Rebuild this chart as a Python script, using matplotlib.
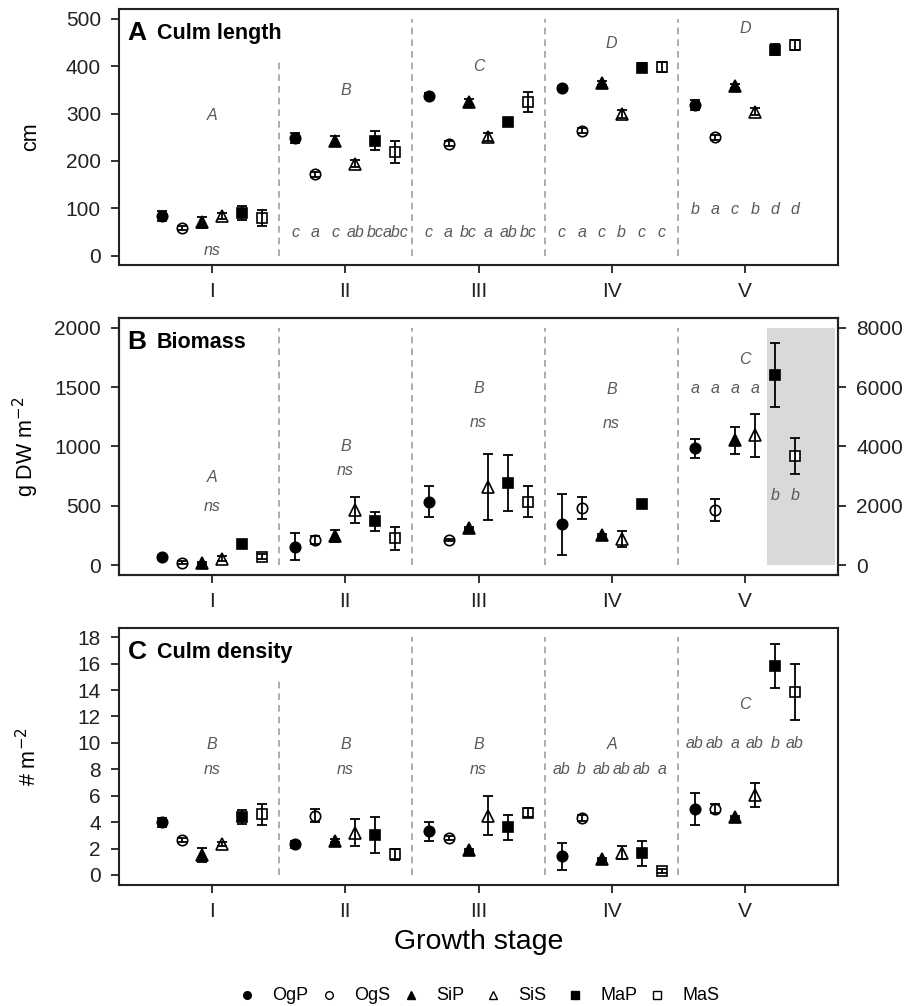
import matplotlib
matplotlib.use("Agg")
import matplotlib.pyplot as plt
from matplotlib.patches import Rectangle
import numpy as np

plt.rcParams['font.family'] = ['Liberation Sans', 'DejaVu Sans']

stages = ["I", "II", "III", "IV", "V"]
series = ["OgP", "OgS", "SiP", "SiS", "MaP", "MaS"]
markers = ["o", "o", "^", "^", "s", "s"]
filled = [True, False, True, False, True, False]

# Panel A: culm length (cm); rows = series, cols = stages
length_mean = [
    [84, 248, 338, 354, 318],
    [58, 172, 236, 264, 250],
    [70, 242, 324, 364, 359],
    [84, 194, 250, 299, 304],
    [90, 243, 283, 397, 435],
    [80, 219, 324, 398, 445],
]
length_err = [
    [10, 11, 5, 4, 10],
    [5, 5, 5, 5, 5],
    [11, 11, 6, 4, 4],
    [6, 7, 9, 9, 8],
    [15, 20, 4, 10, 11],
    [17, 24, 21, 10, 10],
]
length_stage_letters = ["A", "B", "C", "D", "D"]
length_stage_letter_y = [296, 349, 400, 449, 479]
length_group_letters = [
    ["", "", "", "", "", ""],
    ["c", "a", "c", "ab", "bc", "abc"],
    ["c", "a", "bc", "a", "ab", "bc"],
    ["c", "a", "c", "b", "c", "c"],
    ["b", "a", "c", "b", "d", "d"],
]
length_group_y = [None, 49, 49, 49, 98]
length_ns_y = [10, None, None, None, None]

# Panel B: biomass (g DW m-2); stage V MaP/MaS are on the right axis scale
biomass_mean = [
    [67, 155, 533, 343, 983],
    [20, 211, 211, 478, 466],
    [15, 247, 310, 255, 1050],
    [55, 463, 657, 219, 1094],
    [180, 368, 693, 514, 6412],
    [70, 225, 533, 0, 3684],
]
biomass_err = [
    [15, 115, 132, 257, 77],
    [12, 30, 12, 93, 91],
    [8, 52, 10, 10, 110],
    [25, 112, 278, 70, 181],
    [10, 80, 234, 10, 1078],
    [22, 98, 129, 0, 613],
]
biomass_present = [
    [1, 1, 1, 1, 1],
    [1, 1, 1, 1, 1],
    [1, 1, 1, 1, 1],
    [1, 1, 1, 1, 1],
    [1, 1, 1, 1, 1],
    [1, 1, 1, 0, 1],
]
biomass_stage_letters = ["A", "B", "B", "B", "C"]
biomass_stage_letter_y = [736, 997, 1489, 1483, 1735]
biomass_ns_y = [497, 800, 1199, 1194, None]
biomass_group_letters_V = ["a", "a", "a", "a", "b", "b"]
biomass_group_y_V = [1489, 1489, 1489, 1489, 590, 590]

# Panel C: culm density (# m-2)
density_mean = [
    [4.0, 2.32, 3.3, 1.42, 5.0],
    [2.63, 4.5, 2.83, 4.32, 5.03],
    [1.5, 2.6, 1.9, 1.2, 4.4],
    [2.35, 3.2, 4.5, 1.69, 6.08],
    [4.42, 3.0, 3.6, 1.64, 15.8],
    [4.6, 1.57, 4.72, 0.3, 13.86],
]
density_err = [
    [0.35, 0.25, 0.7, 1.03, 1.22],
    [0.15, 0.52, 0.15, 0.2, 0.35],
    [0.53, 0.1, 0.1, 0.1, 0.1],
    [0.15, 1.0, 1.5, 0.5, 0.9],
    [0.53, 1.36, 0.95, 0.96, 1.67],
    [0.78, 0.43, 0.35, 0.15, 2.1],
]
density_stage_letters = ["B", "B", "B", "A", "C"]
density_stage_letter_y = [9.9, 9.9, 9.9, 9.9, 12.93]
density_ns_y = [8.0, 8.0, 8.0, None, None]
density_group_letters = [
    None, None, None,
    ["ab", "b", "ab", "ab", "ab", "a"],
    ["ab", "ab", "a", "ab", "b", "ab"],
]
density_group_y = [None, None, None, 7.95, 9.92]

offsets = [-0.375, -0.225, -0.075, 0.075, 0.225, 0.375]
LETTER_COLOR = "#595959"
DIV_COLOR = "#a0a0a0"
TICK_FS = 15

fig = plt.figure(figsize=(9.08, 10.06), dpi=100)
W, H = 908, 1006
left = 119 / W
width = (838 - 119) / W


def make_ax(top_px, bot_px):
    return fig.add_axes([left, 1 - bot_px / H, width, (bot_px - top_px) / H])


def draw_point(ax, x, y, e, i):
    mfc = "black" if filled[i] else "white"
    ms = 7.5 if markers[i] != "^" else 8.5
    ax.plot(x, y, markers[i], color="black", mfc=mfc, mec="black",
            mew=1.2, ms=ms, zorder=3)
    ax.errorbar(x, y, yerr=e, fmt="none", ecolor="black", capsize=3.5,
                elinewidth=1.3, capthick=1.3, zorder=4)


def style_ax(ax):
    ax.set_xlim(0.3, 5.7)
    ax.set_xticks(range(1, 6))
    ax.set_xticklabels(stages)
    for sp in ax.spines.values():
        sp.set_linewidth(1.5)
        sp.set_color("#222222")
    ax.tick_params(axis="both", direction="out", length=6, width=1.3,
                   labelsize=TICK_FS, colors="#222222")
    ax.tick_params(axis="x", pad=6)
    ax.tick_params(axis="y", pad=7)


def letter(ax, x, y, s):
    ax.text(x, y, s, ha="center", va="center", style="italic",
            color=LETTER_COLOR, fontsize=11.5)


def title(ax, L, T):
    ax.text(0.012, 0.955, L, transform=ax.transAxes, fontsize=19,
            fontweight="bold", va="top", ha="left")
    ax.text(0.053, 0.945, T, transform=ax.transAxes, fontsize=15.5,
            fontweight="bold", va="top", ha="left")


def ylab(ax, s):
    ax.set_ylabel(s, fontsize=15.5)
    ax.yaxis.set_label_coords(-(119 - 41) / (838 - 119), 0.5)


# ---------------- Panel A ----------------
axA = make_ax(9, 265)
style_ax(axA)
axA.set_ylim(-20, 521)
axA.set_yticks([0, 100, 200, 300, 400, 500])
ylab(axA, "cm")
div_tops_A = [415, 500, 500, 500]
for k, xd in enumerate([1.5, 2.5, 3.5, 4.5]):
    axA.plot([xd, xd], [0, div_tops_A[k]], ls=(0, (4, 3)), color=DIV_COLOR,
             lw=1.2, zorder=1)
for s in range(5):
    for i in range(6):
        draw_point(axA, s + 1 + offsets[i], length_mean[i][s], length_err[i][s], i)
    letter(axA, s + 1, length_stage_letter_y[s], length_stage_letters[s])
    if length_ns_y[s] is not None:
        letter(axA, s + 1, length_ns_y[s], "ns")
    if length_group_y[s] is not None:
        for i in range(6):
            letter(axA, s + 1 + offsets[i], length_group_y[s], length_group_letters[s][i])
title(axA, "A", "Culm length")

# ---------------- Panel B ----------------
axB = make_ax(318, 575)
style_ax(axB)
axB.set_ylim(-84, 2082)
axB.set_yticks([0, 500, 1000, 1500, 2000])
ylab(axB, "g DW m$^{-2}$")
axB2 = axB.twinx()
axB2.set_ylim(-84 * 4, 2082 * 4)
axB2.set_yticks([0, 2000, 4000, 6000, 8000])
axB2.tick_params(axis="y", direction="out", length=6, width=1.3, pad=7,
                 labelsize=TICK_FS, colors="#222222")
for sp in axB2.spines.values():
    sp.set_linewidth(1.5)
    sp.set_color("#222222")
axB2.set_zorder(axB.get_zorder() - 1)
axB.patch.set_visible(False)
axB2.add_patch(Rectangle((5.17, 0), 5.675 - 5.17, 8000, facecolor="#d9d9d9",
                         edgecolor="none", zorder=0))
for xd in [1.5, 2.5, 3.5, 4.5]:
    axB.plot([xd, xd], [0, 2000], ls=(0, (4, 3)), color=DIV_COLOR, lw=1.2, zorder=1)
for s in range(5):
    for i in range(6):
        if not biomass_present[i][s]:
            continue
        if s == 4 and i >= 4:
            draw_point(axB, s + 1 + offsets[i], biomass_mean[i][s] / 4,
                       biomass_err[i][s] / 4, i)
        else:
            draw_point(axB, s + 1 + offsets[i], biomass_mean[i][s], biomass_err[i][s], i)
    letter(axB, s + 1, biomass_stage_letter_y[s], biomass_stage_letters[s])
    if biomass_ns_y[s] is not None:
        letter(axB, s + 1, biomass_ns_y[s], "ns")
for i in range(6):
    letter(axB, 5 + offsets[i], biomass_group_y_V[i], biomass_group_letters_V[i])
title(axB, "B", "Biomass")

# ---------------- Panel C ----------------
axC = make_ax(628, 885)
style_ax(axC)
axC.set_ylim(-0.76, 18.7)
axC.set_yticks(range(0, 19, 2))
ylab(axC, "# m$^{-2}$")
div_tops_C = [15, 18, 18, 18]
for k, xd in enumerate([1.5, 2.5, 3.5, 4.5]):
    axC.plot([xd, xd], [0, div_tops_C[k]], ls=(0, (4, 3)), color=DIV_COLOR,
             lw=1.2, zorder=1)
for s in range(5):
    for i in range(6):
        draw_point(axC, s + 1 + offsets[i], density_mean[i][s], density_err[i][s], i)
    letter(axC, s + 1, density_stage_letter_y[s], density_stage_letters[s])
    if density_ns_y[s] is not None:
        letter(axC, s + 1, density_ns_y[s], "ns")
    if density_group_y[s] is not None:
        for i in range(6):
            letter(axC, s + 1 + offsets[i], density_group_y[s], density_group_letters[s][i])
title(axC, "C", "Culm density")
axC.set_xlabel("Growth stage", fontsize=20.5, labelpad=6)

# ---------------- Legend (manual, fixed column pitch) ----------------
legax = fig.add_axes([0, 0, 1, 1])
legax.set_xlim(0, W)
legax.set_ylim(H, 0)
legax.axis("off")
leg_x0, leg_pitch, leg_y = 247, 82, 995
for i in range(6):
    xm = leg_x0 + i * leg_pitch
    legax.plot(xm, leg_y, markers[i], color="black",
               mfc="black" if filled[i] else "white", mec="black",
               ms=5.5, mew=1.0)
    legax.text(xm + 25, leg_y, series[i], ha="left", va="center", fontsize=13)

fig.savefig("out.png", dpi=100)
